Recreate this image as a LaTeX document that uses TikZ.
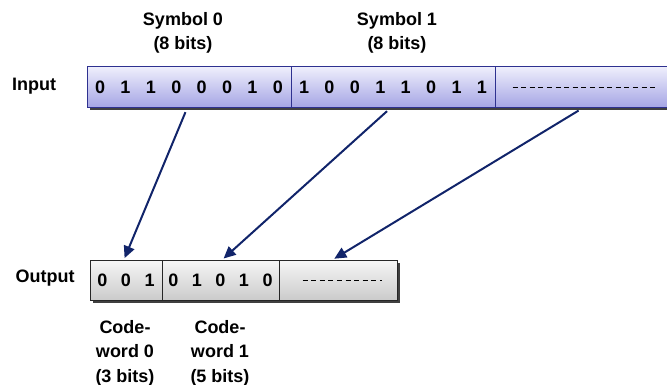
\documentclass[tikz,border=0pt]{standalone}
\usepackage{fontspec}
\setmainfont{Liberation Sans}
\usepackage{tikz}
\usetikzlibrary{positioning,arrows.meta,shadows}

\definecolor{inborder}{HTML}{2E3190}
\definecolor{intop}{HTML}{EEEEFC}
\definecolor{inbot}{HTML}{A4A4E4}
\definecolor{outtop}{HTML}{F6F6F6}
\definecolor{outbot}{HTML}{CBCBCB}
\definecolor{arrownavy}{HTML}{11246A}

\newcommand{\bgap}{\hspace{15.4pt}}
\newcommand{\cgap}{\hspace{13.5pt}}

\tikzset{
  lbl/.style={font=\fontsize{18}{24.5}\selectfont\bfseries, align=center},
  incell/.style={draw=inborder, line width=1pt, top color=intop, bottom color=inbot,
    minimum height=41pt, inner sep=0pt, font=\fontsize{18}{20}\selectfont\bfseries,
    drop shadow={shadow xshift=2.5pt, shadow yshift=-2.5pt, fill=black!75, opacity=1}},
  outcell/.style={draw=black!85, line width=1pt, top color=outtop, bottom color=outbot,
    minimum height=40pt, inner sep=0pt, font=\fontsize{18}{20}\selectfont\bfseries,
    drop shadow={shadow xshift=2.5pt, shadow yshift=-2.5pt, fill=black!75, opacity=1}},
  maparrow/.style={draw=arrownavy, line width=2pt,
    -{Triangle[length=12pt,width=11pt]}, fill=arrownavy, shorten <=4pt, shorten >=1.5pt},
  dots/.style={line width=0.7pt, dash pattern=on 5pt off 3.6pt}
}

\begin{document}
\begin{tikzpicture}[x=1pt, y=-1pt]
\useasboundingbox (0,0) rectangle (667,385);
\clip (0,0) rectangle (667,385);

% headings
\node[lbl] (head0) at (183,33) {Symbol 0\\(8 bits)};
\node[lbl] (head1) at (397,33) {Symbol 1\\(8 bits)};
\node[lbl] (inlbl) at (34,86) {Input};
\node[lbl] (outlbl) at (45,278) {Output};

% input stream
\node[incell, minimum width=204pt] (sym0) at (189,87.5)
  {0\bgap 1\bgap 1\bgap 0\bgap 0\bgap 0\bgap 1\bgap 0};
\node[incell, minimum width=204pt] (sym1) at (393,87.5)
  {1\bgap 0\bgap 0\bgap 1\bgap 1\bgap 0\bgap 1\bgap 1};
\node[incell, minimum width=178pt] (symrest) at (584,87.5) {};
\draw[dots] ([xshift=18pt]symrest.west) -- ([xshift=160pt]symrest.west);

% output stream
\node[outcell, minimum width=72pt] (cw0) at (126,280) {0\cgap 0\cgap 1};
\node[outcell, minimum width=117pt] (cw1) at (220.5,280)
  {0\cgap 1\cgap 0\cgap 1\cgap 0};
\node[outcell, minimum width=118pt] (cwrest) at (338,280) {};
\draw[dots] ([xshift=24pt]cwrest.west) -- ([xshift=103pt]cwrest.west);

% codeword captions
\node[lbl] (cap0) at (125,353) {Code-\\word 0\\(3 bits)};
\node[lbl] (cap1) at (220,353) {Code-\\word 1\\(5 bits)};

% symbol -> codeword
\draw[maparrow] ([xshift=-2pt]sym0.south) -- ([xshift=-2pt]cw0.north);
\draw[maparrow] ([xshift=-3pt]sym1.south) -- ([xshift=2pt]cw1.north);
\draw[maparrow] ([xshift=-2pt]symrest.south) -- ([xshift=-5pt]cwrest.north);
\end{tikzpicture}
\end{document}
